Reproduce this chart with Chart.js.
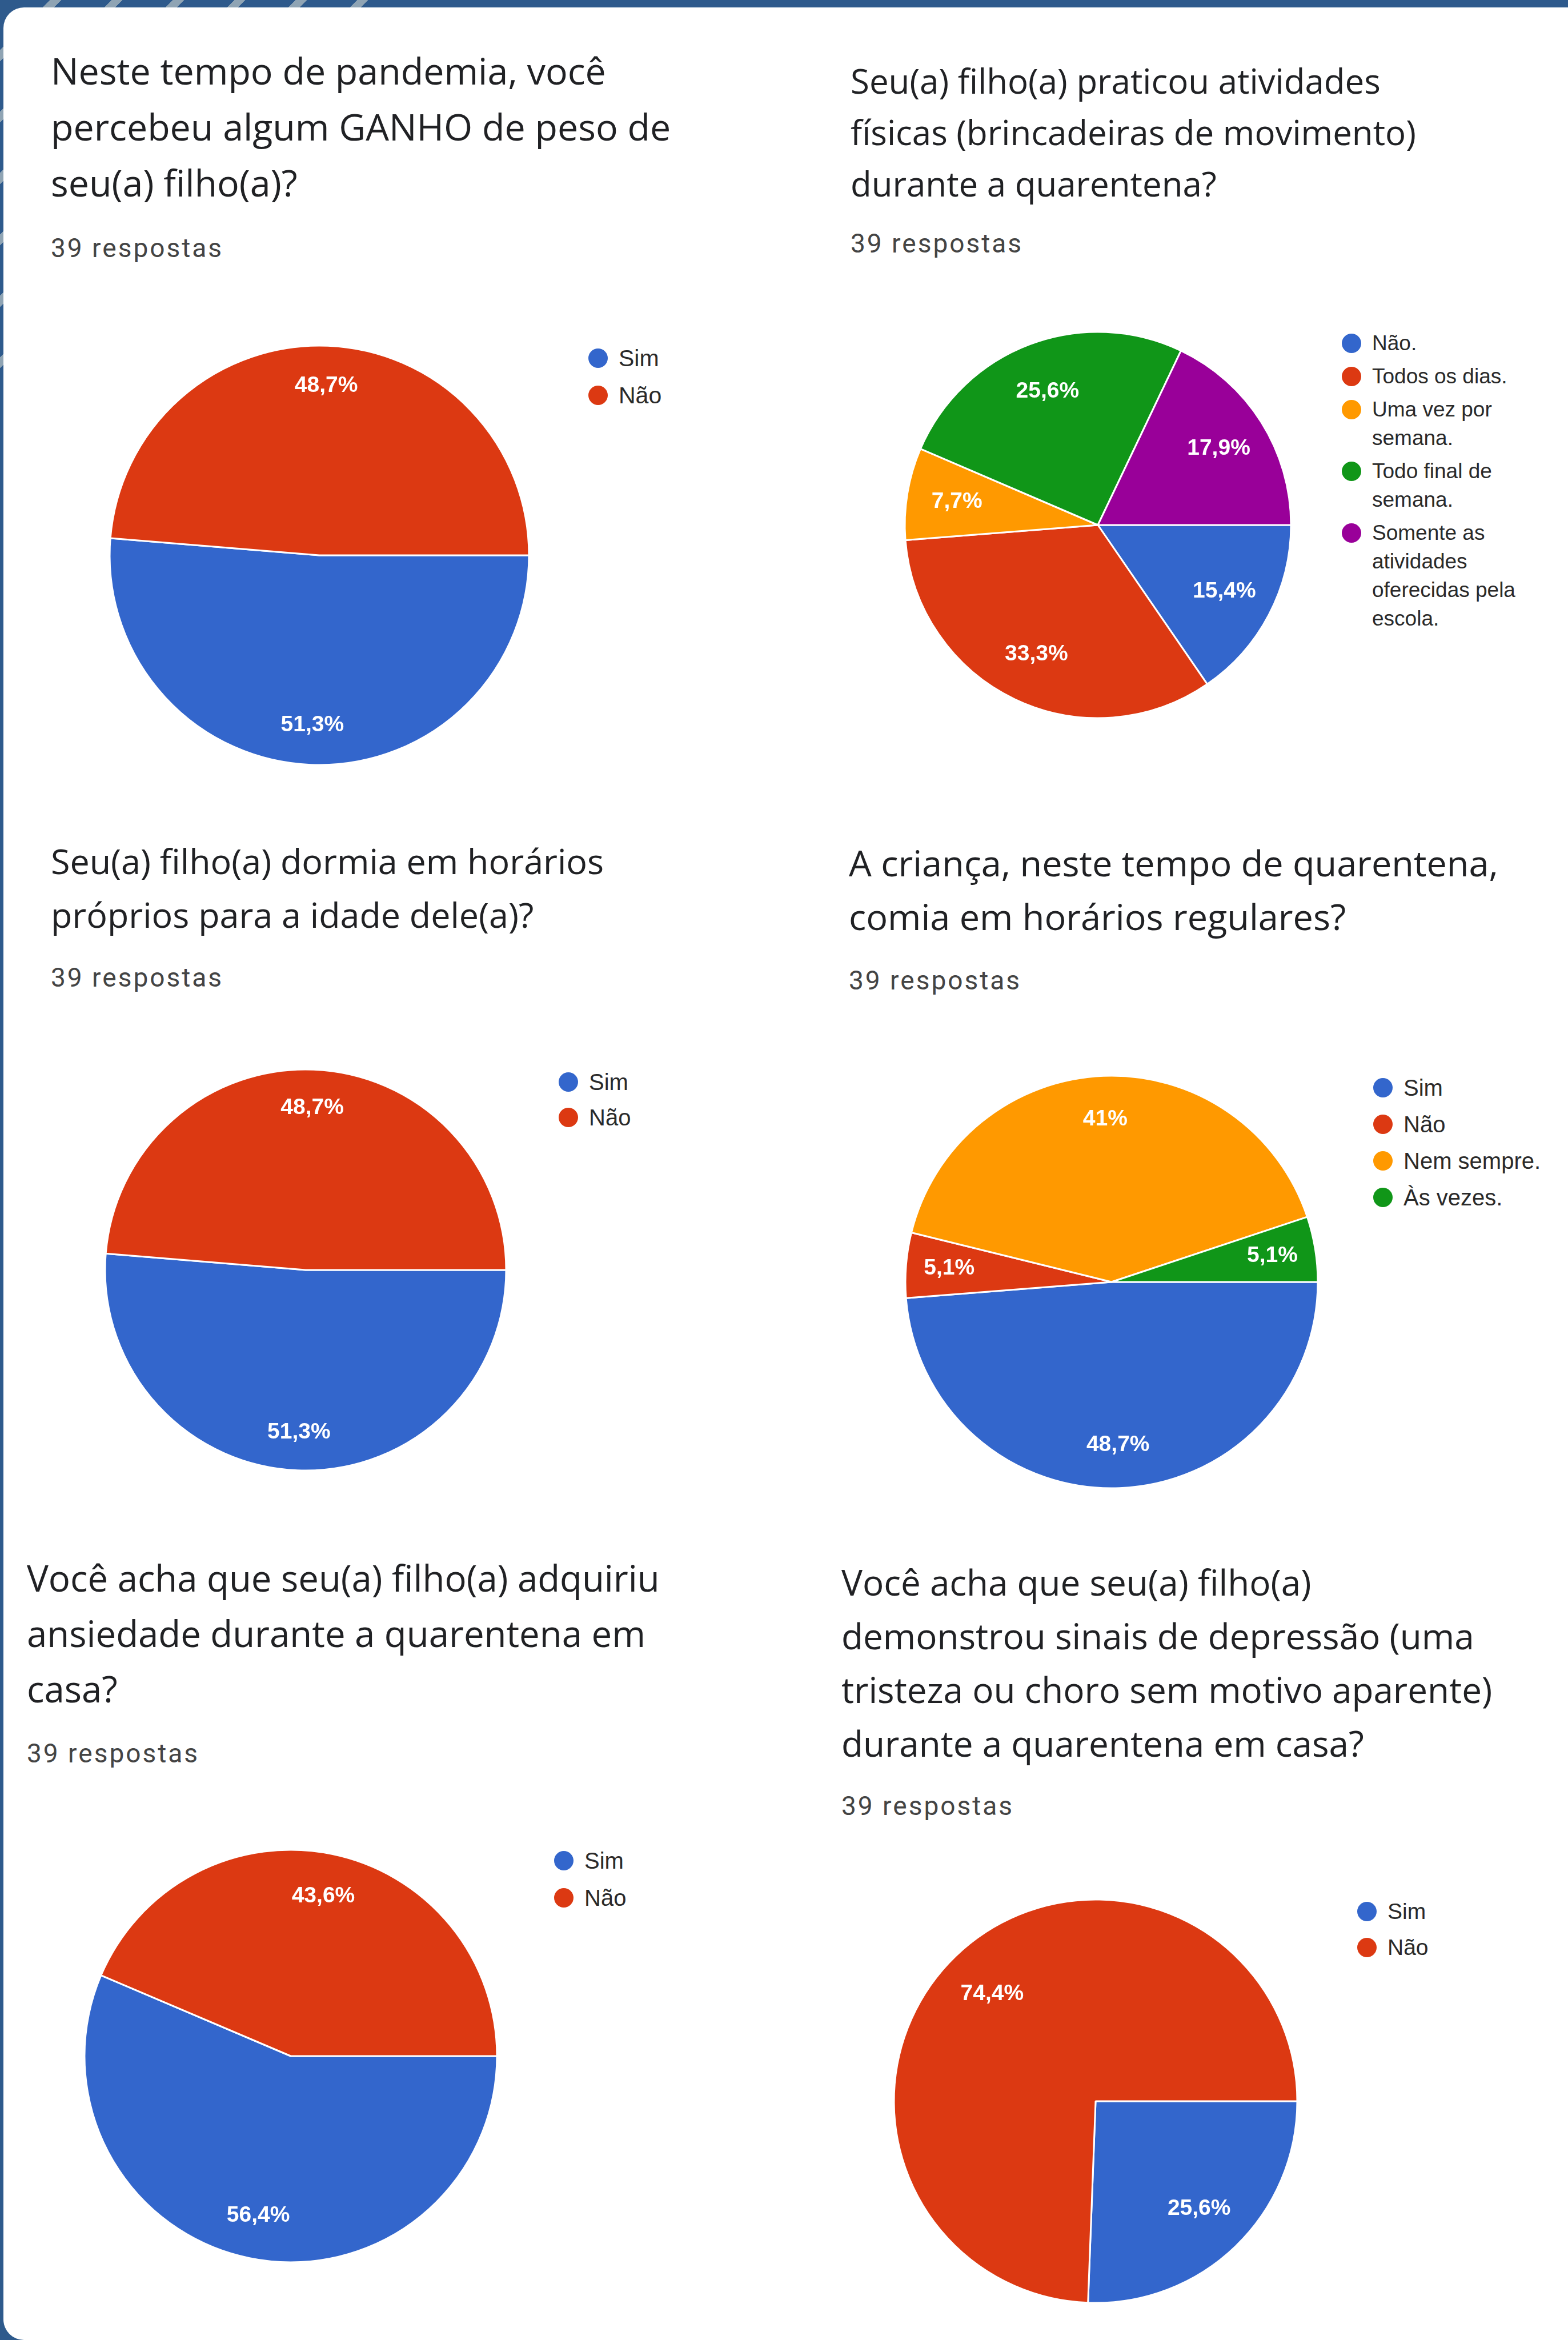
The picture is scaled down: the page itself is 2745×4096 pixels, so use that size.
<!DOCTYPE html>
<html>
<head>
<meta charset="utf-8">
<script src="https://cdn.jsdelivr.net/npm/chart.js@4.4.1/dist/chart.umd.min.js"></script>
<style>
  html, body { margin: 0; padding: 0; }
  body { width: 2745px; height: 4096px; overflow: hidden; background: #2e5a8c; position: relative; }
  #stripes {
    position: absolute; left: 0; top: 0; width: 720px; height: 720px;
    background: repeating-linear-gradient(135deg, #2e5a8c 0px, #2e5a8c 62px, #8fa4b4 62px, #8fa4b4 76px);
    -webkit-mask-image: linear-gradient(135deg, #000 55%, transparent 90%);
    mask-image: linear-gradient(135deg, #000 55%, transparent 90%);
  }
  #card {
    position: absolute; left: 6px; top: 13px; right: 0; bottom: 0;
    background: #fff; border-radius: 36px 0 0 36px;
  }
  .title {
    position: absolute; font-family: "Open Sans", sans-serif; font-size: 62px;
    color: #202124; white-space: nowrap;
  }
  .resp {
    position: absolute; font-family: Roboto, sans-serif; font-size: 46px;
    color: #444; letter-spacing: 3px; white-space: nowrap; line-height: 50px;
  }
  canvas { position: absolute; }
  .legend { position: absolute; font-family: "Liberation Sans", Arial, sans-serif; color: #2a2a2a; }
  .legend .item { display: flex; align-items: flex-start; }
  .legend .dot { flex: none; width: 34px; height: 34px; border-radius: 50%; margin-right: 19px; }
</style>
</head>
<body>
<div id="stripes"></div>
<div id="card"></div>

<div class="title" style="left:89px; top:74px; line-height:98px; font-size:64.5px;">Neste tempo de pandemia, você<br>percebeu algum GANHO de peso de<br>seu(a) filho(a)?</div>
<div class="resp" style="left:89px; top:409px;">39 respostas</div>

<div class="title" style="left:1489px; top:96px; line-height:90px; font-size:60px;">Seu(a) filho(a) praticou atividades<br>físicas (brincadeiras de movimento)<br>durante a quarentena?</div>
<div class="resp" style="left:1489px; top:401px;">39 respostas</div>

<div class="title" style="left:89px; top:1460px; line-height:94px; font-size:61px;">Seu(a) filho(a) dormia em horários<br>próprios para a idade dele(a)?</div>
<div class="resp" style="left:89px; top:1686px;">39 respostas</div>

<div class="title" style="left:1486px; top:1463px; line-height:94px; font-size:63px;">A criança, neste tempo de quarentena,<br>comia em horários regulares?</div>
<div class="resp" style="left:1486px; top:1691px;">39 respostas</div>

<div class="title" style="left:47px; top:2713px; line-height:97px; font-size:63.5px;">Você acha que seu(a) filho(a) adquiriu<br>ansiedade durante a quarentena em<br>casa?</div>
<div class="resp" style="left:47px; top:3044px;">39 respostas</div>

<div class="title" style="left:1473px; top:2722px; line-height:94px;">Você acha que seu(a) filho(a)<br>demonstrou sinais de depressão (uma<br>tristeza ou choro sem motivo aparente)<br>durante a quarentena em casa?</div>
<div class="resp" style="left:1473px; top:3136px;">39 respostas</div>

<canvas id="pie1"></canvas>
<canvas id="pie2"></canvas>
<canvas id="pie3"></canvas>
<canvas id="pie4"></canvas>
<canvas id="pie5"></canvas>
<canvas id="pie6"></canvas>

<div class="legend" id="leg1"></div>
<div class="legend" id="leg2"></div>
<div class="legend" id="leg3"></div>
<div class="legend" id="leg4"></div>
<div class="legend" id="leg5"></div>
<div class="legend" id="leg6"></div>

<script>
// categories and percentages (39 answers each)
const weightLabels = ["Sim", "Não"];
const weightValues = [51.3, 48.7];

const activityLabels = ["Não.", "Todos os dias.", "Uma vez por semana.", "Todo final de semana.", "Somente as atividades oferecidas pela escola."];
const activityValues = [15.4, 33.3, 7.7, 25.6, 17.9];

const sleepLabels = ["Sim", "Não"];
const sleepValues = [51.3, 48.7];

const mealLabels = ["Sim", "Não", "Nem sempre.", "Às vezes."];
const mealValues = [48.7, 5.1, 41, 5.1];

const anxietyLabels = ["Sim", "Não"];
const anxietyValues = [56.4, 43.6];

const depressionLabels = ["Sim", "Não"];
const depressionValues = [25.6, 74.4];

// google forms palette
const palette = ["#3366cc", "#dc3912", "#ff9900", "#109618", "#990099"];

// percentage text inside each slice
const sliceLabels = {
    id: "sliceLabels",
    afterDatasetsDraw(chart, args, opts) {
        const ctx = chart.ctx;
        const values = chart.data.datasets[0].data;
        ctx.save();
        ctx.fillStyle = "#ffffff";
        ctx.font = opts.font;
        ctx.textAlign = "center";
        ctx.textBaseline = "middle";
        chart.getDatasetMeta(0).data.forEach((arc, i) => {
            const p = arc.getProps(["x", "y", "startAngle", "endAngle", "outerRadius"], true);
            const mid = (p.startAngle + p.endAngle) / 2;
            const d = p.outerRadius * opts.at;
            const txt = String(values[i]).replace(".", ",") + "%";
            ctx.fillText(txt, p.x + Math.cos(mid) * d, p.y + Math.sin(mid) * d);
        });
        ctx.restore();
    },
};

function drawPie(id, labels, values, box) {
    const canvas = document.getElementById(id);
    const size = box.r * 2 + 12;
    canvas.width = size;
    canvas.height = size;
    canvas.style.left = (box.cx - size / 2) + "px";
    canvas.style.top = (box.cy - size / 2) + "px";
    new Chart(canvas.getContext("2d"), {
        type: "pie",
        data: {
            labels: labels,
            datasets: [{
                data: values,
                backgroundColor: palette.slice(0, values.length),
                borderColor: "#ffffff",
                borderWidth: 3,
                radius: box.r,
            }],
        },
        options: {
            responsive: false,
            animation: false,
            devicePixelRatio: 1,
            rotation: 90,
            layout: { padding: 0 },
            plugins: {
                legend: { display: false },
                tooltip: { enabled: false },
                sliceLabels: { at: box.at, font: 'bold 39px "Liberation Sans", Arial, sans-serif' },
            },
        },
        plugins: [sliceLabels],
    });
}

function drawLegend(id, labels, box) {
    const el = document.getElementById(id);
    el.style.left = box.x + "px";
    el.style.top = box.y + "px";
    el.style.fontSize = box.font + "px";
    el.style.lineHeight = box.lh + "px";
    el.style.width = box.w + "px";
    labels.forEach((lab, i) => {
        const item = document.createElement("div");
        item.className = "item";
        item.style.marginBottom = box.gap + "px";
        const dot = document.createElement("span");
        dot.className = "dot";
        dot.style.background = palette[i];
        dot.style.marginTop = ((box.lh - 34) / 2) + "px";
        const txt = document.createElement("span");
        txt.textContent = lab;
        item.appendChild(dot);
        item.appendChild(txt);
        el.appendChild(item);
    });
}

window.onload = function () {
    drawPie("pie1", weightLabels, weightValues, { cx: 559, cy: 972, r: 367, at: 0.81 });
    drawPie("pie2", activityLabels, activityValues, { cx: 1922, cy: 919, r: 338, at: 0.74 });
    drawPie("pie3", sleepLabels, sleepValues, { cx: 535, cy: 2223, r: 351, at: 0.81 });
    drawPie("pie4", mealLabels, mealValues, { cx: 1946, cy: 2244, r: 361, at: 0.79 });
    drawPie("pie5", anxietyLabels, anxietyValues, { cx: 509, cy: 3599, r: 361, at: 0.79 });
    drawPie("pie6", depressionLabels, depressionValues, { cx: 1918, cy: 3678, r: 353, at: 0.74 });

    drawLegend("leg1", weightLabels, { x: 1030, y: 602, font: 41, lh: 50, gap: 15, w: 400 });
    drawLegend("leg2", activityLabels, { x: 2349, y: 576, font: 37, lh: 50, gap: 8, w: 330 });
    drawLegend("leg3", sleepLabels, { x: 978, y: 1869, font: 40, lh: 50, gap: 12, w: 400 });
    drawLegend("leg4", mealLabels, { x: 2404, y: 1879, font: 40, lh: 50, gap: 14, w: 340 });
    drawLegend("leg5", anxietyLabels, { x: 970, y: 3232, font: 40, lh: 50, gap: 15, w: 400 });
    drawLegend("leg6", depressionLabels, { x: 2376, y: 3321, font: 39, lh: 50, gap: 13, w: 340 });
};
</script>
</body>
</html>
